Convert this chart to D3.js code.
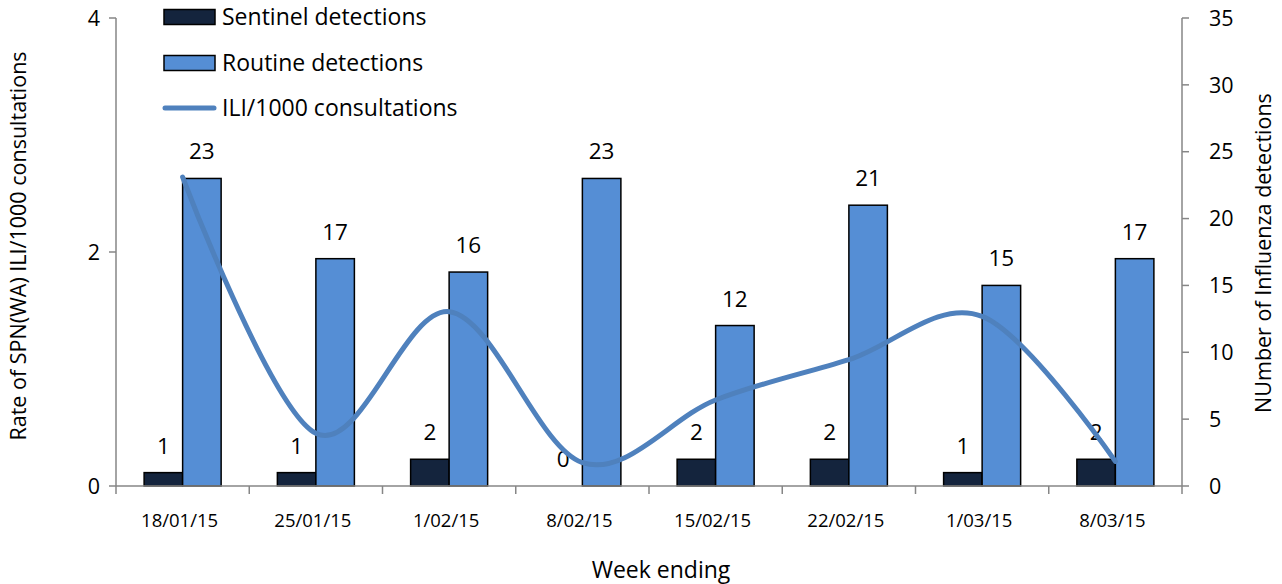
<!DOCTYPE html>
<html><head><meta charset="utf-8">
<script src="https://cdn.jsdelivr.net/npm/d3@7"></script>
<style>body{margin:0;background:#fff}svg{display:block;font-family:"Open Sans",sans-serif}</style>
</head><body><svg id="c" width="1282" height="584"></svg>
<script>
const categories = ["18/01/15","25/01/15","1/02/15","8/02/15","15/02/15","22/02/15","1/03/15","8/03/15"];
const sentinel = [1,1,2,0,2,2,1,2];
const routine = [23,17,16,23,12,21,15,17];
const ili = [2.64,0.45,1.49,0.2,0.735,1.08,1.45,0.21];
const leftTicks = [0,2,4];
const rightTicks = [0,5,10,15,20,25,30,35];
const seriesNames = ["Sentinel detections","Routine detections","ILI/1000 consultations"];

const svg = d3.select("#c");
const L=116,R=1182,T=18,B=486;
const x0 = d3.scaleBand().domain(categories).range([L,R]).padding(0);
const x1 = d3.scaleBand().domain(["s","r"]).range([0,x0.bandwidth()]).paddingInner(0).paddingOuter(0.73);
const yL = d3.scaleLinear().domain([0,4]).range([B,T]);
const yR = d3.scaleLinear().domain([0,35]).range([B,T]);
const axisCol="#868686";

// bars
const g = svg.append("g");
categories.forEach((c,i)=>{
  [["s",sentinel[i],"#14243d"],["r",routine[i],"#558ed5"]].forEach(([k,v,col])=>{
    g.append("rect").attr("x",x0(c)+x1(k)).attr("y",yR(v)).attr("width",x1.bandwidth()).attr("height",B-yR(v))
     .attr("fill",col).attr("stroke","#000").attr("stroke-width",1.5);
    g.append("text").attr("x",x0(c)+x1(k)+x1.bandwidth()/2).attr("y",yR(v)-19)
     .attr("text-anchor","middle").attr("font-size",22.5).attr("fill","#000").text(v);
  });
});

// axes
const ax = svg.append("g");
ax.append("line").attr("x1",L).attr("x2",L).attr("y1",T).attr("y2",B).attr("stroke",axisCol).attr("stroke-width",1.5);
ax.append("line").attr("x1",R).attr("x2",R).attr("y1",T).attr("y2",B).attr("stroke",axisCol).attr("stroke-width",1.5);
ax.append("line").attr("x1",L).attr("x2",R).attr("y1",B).attr("y2",B).attr("stroke",axisCol).attr("stroke-width",1.5);
leftTicks.forEach(t=>{
  ax.append("line").attr("x1",L-7).attr("x2",L).attr("y1",yL(t)).attr("y2",yL(t)).attr("stroke",axisCol).attr("stroke-width",1.5);
  ax.append("text").attr("x",L-16).attr("y",yL(t)).attr("dy","0.36em").attr("text-anchor","end").attr("font-size",21.5).text(t);
});
rightTicks.forEach(t=>{
  ax.append("line").attr("x1",R).attr("x2",R+7).attr("y1",yR(t)).attr("y2",yR(t)).attr("stroke",axisCol).attr("stroke-width",1.5);
  ax.append("text").attr("x",R+27).attr("y",yR(t)).attr("dy","0.36em").attr("text-anchor","start").attr("font-size",21.5).text(t);
});
categories.concat(["end"]).forEach((c,i)=>{
  const xx = L + i*x0.step();
  ax.append("line").attr("x1",xx).attr("x2",xx).attr("y1",B).attr("y2",B+8).attr("stroke",axisCol).attr("stroke-width",1.5);
});
categories.forEach(c=>{
  ax.append("text").attr("x",x0(c)+x0.bandwidth()/2-3).attr("y",527).attr("text-anchor","middle").attr("font-size",18.5).text(c);
});
ax.append("text").attr("x",661).attr("y",578).attr("text-anchor","middle").attr("font-size",23).text("Week ending");
ax.append("text").attr("transform","translate(26,246) rotate(-90)").attr("text-anchor","middle").attr("font-size",21.5).text("Rate of SPN(WA) ILI/1000 consultations");
ax.append("text").attr("transform","translate(1271,253) rotate(-90)").attr("text-anchor","middle").attr("font-size",21.5).text("NUmber of Influenza detections");

// line
const line = d3.line().x((d,i)=>x0(categories[i])+x0.bandwidth()/2).y(d=>yL(d)).curve(d3.curveCatmullRom.alpha(0));
svg.append("path").attr("d",line(ili)).attr("fill","none").attr("stroke","#4f81bd").attr("stroke-width",5).attr("stroke-linecap","round");

// legend
const lg = svg.append("g");
const ly=[17,63,108];
lg.append("rect").attr("x",164).attr("y",ly[0]-7.5).attr("width",51).attr("height",15).attr("fill","#14243d").attr("stroke","#000").attr("stroke-width",1.5);
lg.append("rect").attr("x",164).attr("y",ly[1]-7.5).attr("width",51).attr("height",15).attr("fill","#558ed5").attr("stroke","#000").attr("stroke-width",1.5);
lg.append("line").attr("x1",165).attr("x2",214).attr("y1",ly[2]).attr("y2",ly[2]).attr("stroke","#4f81bd").attr("stroke-width",5).attr("stroke-linecap","round");
seriesNames.forEach((s,i)=>{
  lg.append("text").attr("x",222).attr("y",ly[i]).attr("dy","0.36em").attr("font-size",23).text(s);
});
</script></body></html>
